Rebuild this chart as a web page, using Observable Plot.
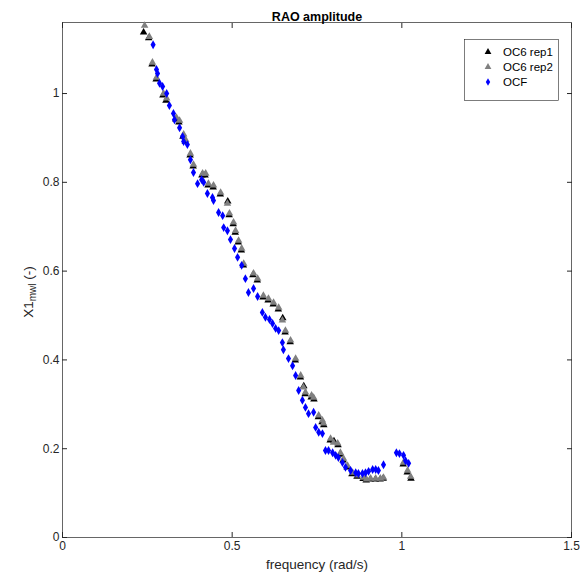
<!DOCTYPE html>
<html>
<head>
<meta charset="utf-8">
<script src="https://cdn.jsdelivr.net/npm/d3@7"></script>
<script src="https://cdn.jsdelivr.net/npm/@observablehq/plot@0.6"></script>
<style>
  html, body { margin: 0; padding: 0; background: #fff; }
  #chart svg { display: block; }
</style>
</head>
<body>
<div id="chart"></div>
<script>
// ---- data ----
const rep2X = [0.242,0.256,0.265,0.277,0.298,0.307,0.336,0.345,0.357,0.363,0.377,0.386,0.413,0.422,0.430,0.445,0.466,0.486,0.492,0.504,0.510,0.519,0.528,0.534,0.563,0.575,0.592,0.607,0.622,0.637,0.648,0.657,0.672,0.687,0.702,0.710,0.716,0.734,0.740,0.755,0.766,0.769,0.790,0.799,0.811,0.819,0.828,0.840,0.855,0.869,0.887,0.896,0.908,0.923,0.937,0.946,1.005,1.017,1.026];
const rep2Y = [1.153,1.128,1.070,1.036,1.000,0.989,0.946,0.939,0.908,0.896,0.865,0.840,0.820,0.820,0.797,0.793,0.777,0.752,0.730,0.710,0.691,0.669,0.651,0.617,0.595,0.583,0.545,0.538,0.529,0.518,0.489,0.466,0.444,0.403,0.365,0.338,0.327,0.320,0.315,0.275,0.264,0.257,0.223,0.214,0.212,0.191,0.178,0.162,0.146,0.140,0.135,0.131,0.133,0.133,0.133,0.135,0.169,0.151,0.137];
const rep1X = [0.239,0.254,0.264,0.276,0.296,0.305,0.334,0.343,0.355,0.362,0.376,0.385,0.411,0.420,0.429,0.444,0.465,0.487,0.491,0.503,0.509,0.518,0.527,0.533,0.561,0.574,0.591,0.606,0.621,0.636,0.649,0.656,0.671,0.686,0.701,0.711,0.715,0.733,0.741,0.754,0.765,0.770,0.789,0.800,0.812,0.818,0.827,0.839,0.853,0.868,0.886,0.895,0.907,0.922,0.936,0.945,1.004,1.016,1.027];
const rep1Y = [1.138,1.125,1.066,1.032,0.996,0.984,0.942,0.935,0.903,0.892,0.861,0.836,0.816,0.816,0.793,0.789,0.773,0.757,0.726,0.706,0.687,0.665,0.647,0.613,0.591,0.579,0.541,0.534,0.525,0.514,0.494,0.462,0.440,0.399,0.361,0.341,0.323,0.316,0.311,0.271,0.260,0.253,0.219,0.217,0.208,0.187,0.174,0.158,0.143,0.137,0.132,0.129,0.131,0.131,0.131,0.133,0.165,0.147,0.133];
const ocfX = [0.267,0.277,0.280,0.286,0.295,0.307,0.315,0.327,0.330,0.345,0.354,0.357,0.368,0.377,0.386,0.398,0.410,0.416,0.427,0.442,0.445,0.460,0.472,0.475,0.486,0.495,0.507,0.516,0.528,0.539,0.548,0.563,0.575,0.589,0.598,0.610,0.619,0.628,0.637,0.648,0.651,0.666,0.678,0.687,0.696,0.707,0.716,0.725,0.740,0.746,0.755,0.766,0.775,0.784,0.796,0.805,0.813,0.825,0.834,0.849,0.864,0.872,0.884,0.893,0.902,0.914,0.923,0.931,0.946,0.984,0.993,1.005,1.011,1.020];
const ocfY = [1.110,1.054,1.045,1.023,1.016,1.000,0.973,0.955,0.941,0.923,0.903,0.892,0.885,0.851,0.822,0.797,0.806,0.800,0.775,0.766,0.759,0.732,0.725,0.698,0.691,0.671,0.651,0.631,0.613,0.583,0.552,0.561,0.543,0.507,0.496,0.491,0.482,0.471,0.466,0.439,0.423,0.403,0.387,0.365,0.331,0.309,0.293,0.279,0.282,0.248,0.237,0.234,0.196,0.196,0.191,0.185,0.180,0.169,0.158,0.151,0.146,0.144,0.144,0.146,0.149,0.153,0.153,0.151,0.164,0.191,0.189,0.185,0.173,0.167];
const xTicks = [0, 0.5, 1, 1.5];
const yTicks = [0, 0.2, 0.4, 0.6, 0.8, 1];
const seriesNames = ["OC6 rep1", "OC6 rep2", "OCF"];
const seriesColors = ["#000000", "#808080", "#0000ff"];
const seriesSymbols = ["triangle", "triangle", "diamond"];

const toRows = (xs, ys) => xs.map((x, i) => ({x, y: ys[i]}));
const rep1 = toRows(rep1X, rep1Y);
const rep2 = toRows(rep2X, rep2Y);
const ocf = toRows(ocfX, ocfY);

const font = "'Liberation Sans', Arial, Helvetica, sans-serif";
const axisColor = "#262626";

const chart = Plot.plot({
  width: 582,
  height: 578,
  marginLeft: 62,
  marginRight: 11,
  marginTop: 22,
  marginBottom: 41,
  style: {fontFamily: font, fontSize: "12px", color: axisColor, background: "#fff"},
  x: {domain: [0, 1.5]},
  y: {domain: [0, 1.16]},
  marks: [
    Plot.frame({stroke: axisColor, strokeWidth: 0.7}),
    Plot.axisX({ticks: xTicks, tickFormat: d => String(d), tickSize: -5, tickPadding: 9, label: null, stroke: axisColor, fill: axisColor, fontSize: 12}),
    Plot.axisX({anchor: "top", ticks: xTicks, tickFormat: () => "", tickSize: -5, label: null, stroke: axisColor}),
    Plot.axisY({ticks: yTicks, tickFormat: d => String(d), tickSize: -5, tickPadding: 8, label: null, stroke: axisColor, fill: axisColor, fontSize: 12}),
    Plot.axisY({anchor: "right", ticks: yTicks, tickFormat: () => "", tickSize: -5, label: null, stroke: axisColor}),
    Plot.dot(rep1, {x: "x", y: "y", symbol: seriesSymbols[0], r: 2.8, fill: seriesColors[0], stroke: "none"}),
    Plot.dot(rep2, {x: "x", y: "y", symbol: seriesSymbols[1], r: 2.8, fill: seriesColors[1], stroke: "none"}),
    Plot.dot(ocf, {x: "x", y: "y", symbol: seriesSymbols[2], r: 2.7, fill: seriesColors[2], stroke: "none"}),
    Plot.text(["RAO amplitude"], {frameAnchor: "top", dy: -10, fontWeight: "bold", fontSize: 12.5, fill: "#000"}),
    Plot.text(["frequency (rad/s)"], {frameAnchor: "bottom", dy: 31, fontSize: 13.5, fill: axisColor})
  ]
});

document.getElementById("chart").appendChild(chart);

// Y-axis label with subscript
const svg = d3.select(chart);
const yl = svg.append("text")
  .attr("transform", "translate(33,292) rotate(-90)")
  .attr("text-anchor", "middle")
  .attr("font-family", font)
  .attr("font-size", 13.5)
  .attr("fill", axisColor);
yl.append("tspan").text("X1");
yl.append("tspan").attr("font-size", 10).attr("dy", 3).text("mwl");
yl.append("tspan").attr("dy", -3).text(" (-)");

// Legend
const lg = svg.append("g");
lg.append("rect").attr("x", 464.5).attr("y", 39.5).attr("width", 94).attr("height", 61)
  .attr("fill", "#fff").attr("stroke", axisColor).attr("stroke-width", 0.6);
const symMap = {triangle: d3.symbolTriangle, diamond: d3.symbolDiamond};
seriesNames.forEach((name, i) => {
  const cy = 52 + i * 15;
  const r = i === 2 ? 2.3 : 2.5;
  lg.append("path")
    .attr("transform", `translate(488,${cy})`)
    .attr("d", d3.symbol(symMap[seriesSymbols[i]], Math.PI * r * r)())
    .attr("fill", seriesColors[i]);
  lg.append("text").attr("x", 503).attr("y", cy).attr("dy", "0.35em")
    .attr("text-anchor", "start")
    .attr("font-family", font).attr("font-size", 11.5).attr("fill", "#000").text(name);
});
</script>
</body>
</html>
